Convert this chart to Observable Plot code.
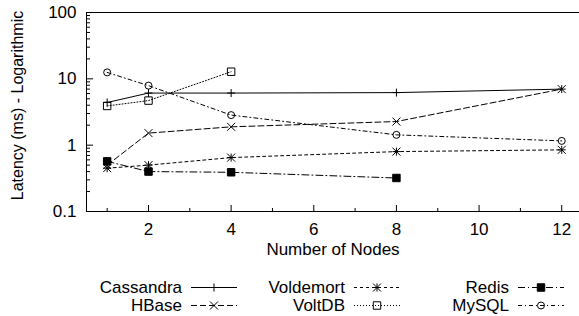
<!DOCTYPE html>
<html><head><meta charset="utf-8">
<script src="https://cdn.jsdelivr.net/npm/d3@7"></script>
<script src="https://cdn.jsdelivr.net/npm/@observablehq/plot@0.6"></script>
<style>
body{margin:0;background:#fff;}
#chart svg{display:block;}
</style></head><body><div id="chart"></div>
<script>
// ---- data ----
const nodes = [1, 2, 4, 8, 12];
const cassandra = [4.4, 6.1, 6.1, 6.2, 7.0];
const hbase = [0.5, 1.52, 1.89, 2.27, 7.0];
const voldemort = [0.45, 0.50, 0.65, 0.80, 0.85];
const voltdb = [3.9, 4.7, 12.8];
const redis = [0.57, 0.40, 0.39, 0.32];
const mysql = [12.5, 7.9, 2.84, 1.43, 1.16];
const seriesNames = ["Cassandra", "HBase", "Voldemort", "VoltDB", "Redis", "MySQL"];
const seriesValues = [cassandra, hbase, voldemort, voltdb, redis, mysql];
const yMajor = [0.1, 1, 10, 100];
const yMinor = [0.2,0.3,0.4,0.5,0.6,0.7,0.8,0.9, 2,3,4,5,6,7,8,9, 20,30,40,50,60,70,80,90];
const xMajor = [2, 4, 6, 8, 10, 12];
const xMinor = [1, 3, 5, 7, 9, 11];
const xLabel = "Number of Nodes";
const yLabel = "Latency (ms) - Logarithmic";

// ---- styles ----
const FONT = "'Liberation Sans', Arial, Helvetica, sans-serif";
const styles = {
  Cassandra: {dash: null, symbols: [["plus", 2.7]], fill: "none"},
  HBase: {dash: "6,3", symbols: [["times", 3.72]], fill: "none"},
  Voldemort: {dash: "3,3", symbols: [["plus", 2.7], ["times", 3.72]], fill: "none"},
  VoltDB: {dash: "1,2", symbols: [["square", 4.2]], fill: "none"},
  Redis: {dash: "7,3,1,3", symbols: [["square", 4.2]], fill: "black"},
  MySQL: {dash: "4,3,1,3", symbols: [["circle", 3.5]], fill: "none"}
};

const rows = [];
seriesNames.forEach((name, i) => {
  seriesValues[i].forEach((v, j) => rows.push({series: name, nodes: nodes[j], latency: v}));
});

const marks = [];
seriesNames.forEach(name => {
  const st = styles[name];
  const data = rows.filter(d => d.series === name);
  marks.push(Plot.line(data, {x: "nodes", y: "latency", stroke: "black", strokeWidth: 1,
    strokeDasharray: st.dash || undefined}));
  st.symbols.forEach(([sym, r]) => {
    marks.push(Plot.dot(data, {x: "nodes", y: "latency", symbol: () => sym, r, stroke: "black",
      strokeWidth: 1, fill: st.fill}));
  });
});

const W = 579, H = 268;
const plot = Plot.plot({
  width: W, height: H,
  marginLeft: 86, marginRight: 0, marginTop: 12, marginBottom: 57,
  style: {fontFamily: FONT, fontSize: "17px", color: "black", background: "white"},
  x: {type: "linear", domain: [0.5, 12.43], label: null},
  y: {type: "log", domain: [0.1, 100], label: null},
  marks: [
    Plot.axisY(yMajor, {anchor: "left", tickSize: 7, dx: 7, tickFormat: () => "", label: null}),
    Plot.axisY(yMinor, {anchor: "left", tickSize: 4, dx: 4, tickFormat: () => "", label: null}),
    Plot.axisY(yMajor, {anchor: "left", tickSize: 0, tickPadding: 10, tickFormat: d => String(d), label: null, fontSize: 17}),
    Plot.axisX(xMajor, {anchor: "bottom", tickSize: 6, dy: -6, tickFormat: () => "", label: null}),
    Plot.axisX(xMinor, {anchor: "bottom", tickSize: 3, dy: -3, tickFormat: () => "", label: null}),
    Plot.axisX(xMajor, {anchor: "bottom", tickSize: 0, tickPadding: 11, tickFormat: d => String(d), label: null, fontSize: 17}),
    Plot.ruleX([0.5], {stroke: "black"}),
    Plot.ruleY([0.1], {stroke: "black"}),
    Plot.ruleY([100], {stroke: "black"}),
    ...marks,
    Plot.text([yLabel], {text: d => d, frameAnchor: "left", textAnchor: "middle", rotate: -90, dx: -69, dy: -6.5, fontSize: 16}),
    Plot.text([xLabel], {text: d => d, frameAnchor: "bottom", textAnchor: "middle", dy: 43.5, fontSize: 17})
  ]
});
document.getElementById("chart").appendChild(plot);

// ---- legend below the chart ----
const symbolTypes = {plus: d3.symbolPlus, times: d3.symbolTimes, square: d3.symbolSquare, circle: d3.symbolCircle};
const legendCols = [182, 345, 509];   // right edge of the label text
const legendRows = [19, 37];
const sampleGap = 9, sampleLen = 46;
const leg = d3.create("svg").attr("width", W).attr("height", 316 - H)
  .style("display", "block").style("font-family", FONT).style("font-size", "17px");
seriesNames.forEach((name, i) => {
  const st = styles[name];
  const tx = legendCols[Math.floor(i / 2)], ty = legendRows[i % 2];
  leg.append("text").attr("x", tx).attr("y", ty).attr("dy", "0.35em")
    .attr("text-anchor", "end").attr("fill", "black").text(name);
  const x1 = tx + sampleGap, x2 = x1 + sampleLen;
  leg.append("line").attr("x1", x1).attr("x2", x2).attr("y1", ty + 0.5).attr("y2", ty + 0.5)
    .attr("stroke", "black").attr("stroke-width", 1).attr("stroke-dasharray", st.dash);
  st.symbols.forEach(([sym, r]) => {
    leg.append("path").attr("transform", `translate(${(x1 + x2) / 2},${ty + 0.5})`)
      .attr("d", d3.symbol(symbolTypes[sym], Math.PI * r * r)())
      .attr("stroke", "black").attr("stroke-width", 1).attr("fill", st.fill);
  });
});
document.getElementById("chart").appendChild(leg.node());
</script></body></html>
